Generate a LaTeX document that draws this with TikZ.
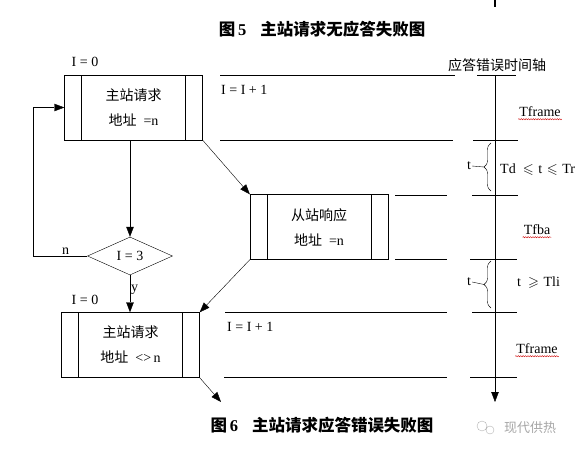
\documentclass[tikz,border=0pt]{standalone}
\usepackage{amssymb}
\usepackage{fontspec}
\setmainfont{Liberation Serif}
\newfontfamily\cjk{Noto Sans CJK SC}
\usepackage{tikz}
\usetikzlibrary{positioning,arrows.meta,shapes.geometric,decorations.pathreplacing,decorations.pathmorphing}

\begin{document}
\begin{tikzpicture}[x=1pt,y=-1pt,
  font=\fontsize{14}{16}\selectfont, >={Triangle[length=10pt,width=7.5pt]},
  proc/.style={draw,minimum width=138pt,minimum height=65pt,align=center,inner sep=0pt,
    font=\fontsize{14}{25}\selectfont,
    path picture={
      \draw ([xshift=17pt]path picture bounding box.north west) -- ([xshift=17pt]path picture bounding box.south west);
      \draw ([xshift=-17pt]path picture bounding box.north east) -- ([xshift=-17pt]path picture bounding box.south east);}},
  dec/.style={draw,diamond,aspect=2.24,minimum width=85pt,minimum height=38pt,inner sep=0pt},
  lbl/.style={inner sep=1pt},
  wavy/.style={red!80!black,line width=0.4pt,decorate,decoration={snake,amplitude=0.6pt,segment length=2.4pt}},
  tbrace/.style={decorate,decoration={brace,amplitude=7pt}}
]
\useasboundingbox (0,0) rectangle (582,453);

% titles
\node (ttl5) at (322,29) {\fontsize{16.5}{18}\selectfont\textbf{{\cjk\bfseries 图}\,5}\hspace{14pt}{\cjk\bfseries 主站请求无应答失败图}};
\node (ttl6) at (322,425) {\fontsize{16.5}{18}\selectfont\textbf{{\cjk\bfseries 图}\,6}\hspace{14pt}{\cjk\bfseries 主站请求应答错误失败图}};
\node[gray!70] (wm) at (530,428) {\fontsize{13}{15}\selectfont\cjk 现代供热};
\draw[gray!60] (482,426) circle (5pt) (490,430) circle (4pt);

% flow chart
\node[proc] (mst) at (133.5,107.5) {{\cjk 主站请求}\\{\cjk 地址}\ \ =n};
\node[proc] (slv) at (319,227) {{\cjk 从站响应}\\{\cjk 地址}\ \ =n};
\node[proc] (rtr) at (130.5,345) {{\cjk 主站请求}\\{\cjk 地址}\ \ <>\,n};
\node[dec] (chk) at (130,256) {I = 3};
\node[lbl] (i0a) at (85,62) {I = 0};
\node[lbl] (i0b) at (85,300) {I = 0};
\coordinate (lp) at (33,256);
\coordinate (end) at (221,402);

\draw[->] (mst.south -| chk) -- (chk.north);
\draw[->] (chk.south) -- node[right,lbl,pos=0.4]{y} (chk.south |- rtr.north);
\draw[->] (chk.west) -- node[above,lbl,pos=0.4]{n} (lp) |- (mst.west);
\draw[->] (mst.south east) -- (slv.north west);
\draw[->] (slv.south west) -- (rtr.north east);
\draw[->] (rtr.south east) -- (end);

% time axis
\coordinate (ax0) at (495,75);
\coordinate (ax1) at (495,402);
\draw[->] (ax0) -- (ax1);
\draw[line width=1.5pt] (495,0) -- (495,7);
\node (axl) at (497,65) {\fontsize{14}{16}\selectfont\cjk 应答错误时间轴};
\foreach \y/\a/\b in {75/220/455, 140/220/453, 195/395/447, 259/395/447, 312/225/447, 377/224/447}
  \draw (\a,\y) -- (\b,\y);
\foreach \y/\a/\b in {75/477/516, 140/473/518, 195/472/518, 259/470/517, 312/472/517, 377/470/517}
  \draw (\a,\y) -- (\b,\y);

\node[lbl,anchor=west] (inc1) at (220,90) {I = I + 1};
\node[lbl,anchor=west] (inc2) at (226,327) {I = I + 1};
\node[lbl] (tf1) at (540,112) {Tframe};
\node[lbl] (tfb) at (537,230) {Tfba};
\node[lbl] (tf2) at (537,349) {Tframe};
\foreach \n in {tf1,tfb,tf2}
  \draw[wavy] ([yshift=-1pt]\n.south west) -- ([yshift=-1pt]\n.south east);

% waiting times
\coordinate (b1a) at (491,191);
\coordinate (b1b) at (491,143);
\coordinate (b2a) at (491,308);
\coordinate (b2b) at (491,261);
\draw[tbrace] (b1a) -- (b1b);
\draw[tbrace] (b2a) -- (b2b);
\node[lbl] (t1) at (469,166) {t};
\node[lbl] (t2) at (469,282) {t};
\draw (t1.east) -- (484,167);
\draw (t2.east) -- (484,284.5);
\node[lbl,anchor=west] (rng1) at (499,170) {Td \ $\leqslant$\,\,t\,\,$\leqslant$\,\,Tr};
\node[lbl,anchor=west] (rng2) at (516,283) {t \ $\geqslant$\,\,Tli};
\end{tikzpicture}
\end{document}
